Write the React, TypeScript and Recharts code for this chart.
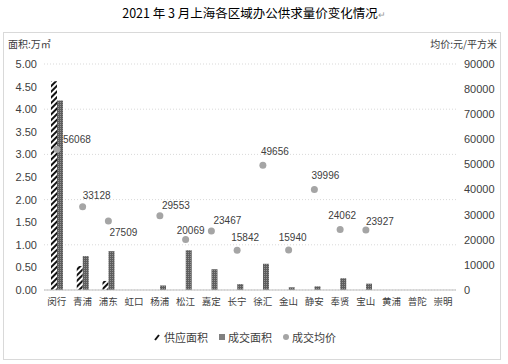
import { ComposedChart, Bar, Line, XAxis, YAxis, CartesianGrid } from 'recharts';

const districts = ['闵行', '青浦', '浦东', '虹口', '杨浦', '松江', '嘉定', '长宁', '徐汇', '金山', '静安', '奉贤', '宝山', '黄浦', '普陀', '崇明'];
const supplyArea = [4.62, 0.53, 0.2, 0, 0, 0, 0, 0, 0, 0, 0, 0, 0, 0, 0, 0];
const dealArea = [4.19, 0.75, 0.86, 0, 0.1, 0.88, 0.46, 0.13, 0.58, 0.06, 0.08, 0.26, 0.14, 0, 0, 0];
const avgPrice = [56068, 33128, 27509, null, 29553, 20069, 23467, 15842, 49656, 15940, 39996, 24062, 23927, null, null, null];
const areaTicks = [0, 0.5, 1, 1.5, 2, 2.5, 3, 3.5, 4, 4.5, 5];
const priceTicks = [0, 10000, 20000, 30000, 40000, 50000, 60000, 70000, 80000, 90000];

// where Excel put each price label, relative to its dot
const labelDx = [20, 14, 15, 0, 16, 5, 16, 8, 12, 4, 11, 2, 14, 0, 0, 0];
const labelDy = [-10, -11, 12, 0, -10, -9, -11, -13, -14, -12, -14, -14, -8, 0, 0, 0];

const data = districts.map((name, i) => ({
  name,
  supply: supplyArea[i],
  deal: dealArea[i],
  price: avgPrice[i],
}));

const cjk = "'Noto Sans CJK SC', sans-serif";
const num = "'Liberation Sans', 'Noto Sans CJK SC', sans-serif";

const PriceLabel = (props: any) => {
  const { x, y, value, index } = props;
  if (value == null) return null;
  return (
    <text
      x={x + labelDx[index]}
      y={y + labelDy[index]}
      textAnchor="middle"
      dominantBaseline="central"
      fontSize={10}
      fontFamily={num}
      fill="#404040"
    >
      {value}
    </text>
  );
};

export default function App() {
  return (
    <div style={{ position: 'absolute', left: 0, top: 0, width: 508, height: 364, background: '#fff' }}>
      <div
        style={{
          position: 'absolute', left: 0, top: 4, width: 508, textAlign: 'center',
          fontFamily: cjk, fontSize: 12.5, color: '#000', lineHeight: '18px',
        }}
      >
        2021 年 3 月上海各区域办公供求量价变化情况<span style={{ color: '#999', fontSize: 9 }}>↵</span>
      </div>
      <div
        style={{
          position: 'absolute', left: 3, top: 32, width: 498, height: 328,
          border: '1px solid #d9d9d9', boxSizing: 'border-box',
        }}
      />
      <div style={{ position: 'absolute', left: 8, top: 36, fontFamily: cjk, fontSize: 10, color: '#404040' }}>
        面积:万㎡
      </div>
      <div style={{ position: 'absolute', right: 11, top: 36, fontFamily: cjk, fontSize: 10, color: '#404040' }}>
        均价:元/平方米
      </div>

      <div style={{ position: 'absolute', left: 0, top: 0 }}>
        <ComposedChart
          width={508}
          height={364}
          data={data}
          margin={{ top: 64, right: 8, bottom: 44, left: 0 }}
          barGap={0}
          barCategoryGap="28%"
        >
          <defs>
            <pattern id="hatch" width="4" height="4" patternUnits="userSpaceOnUse" patternTransform="rotate(45)">
              <rect width="4" height="4" fill="#fff" />
              <rect width="2" height="4" fill="#111" />
            </pattern>
            <pattern id="dots" width="2" height="2" patternUnits="userSpaceOnUse">
              <rect width="2" height="2" fill="#5e5e5e" />
              <rect width="1" height="1" fill="#949494" />
            </pattern>
          </defs>
          <CartesianGrid yAxisId="left" vertical={false} stroke="#d9d9d9" strokeDasharray="1 2" />
          <XAxis
            dataKey="name"
            height={30}
            tickLine={false}
            tickSize={0}
            tickMargin={8}
            axisLine={{ stroke: '#bfbfbf' }}
            interval={0}
            tick={{ fontSize: 9.5, fontFamily: cjk, fill: '#404040' }}
          />
          <YAxis
            yAxisId="left"
            width={44}
            domain={[0, 5]}
            ticks={areaTicks}
            tickFormatter={(v: number) => v.toFixed(2)}
            axisLine={false}
            tickLine={false}
            tickSize={0}
            tickMargin={7}
            tick={{ fontSize: 11, fontFamily: num, fill: '#404040' }}
          />
          <YAxis
            yAxisId="right"
            orientation="right"
            width={44}
            domain={[0, 90000]}
            ticks={priceTicks}
            axisLine={false}
            tickLine={false}
            tickSize={0}
            tickMargin={8}
            tick={{ fontSize: 11, fontFamily: num, fill: '#404040', textAnchor: 'start' }}
          />
          <Bar yAxisId="left" dataKey="supply" name="供应面积" fill="url(#hatch)" barSize={6} isAnimationActive={false} />
          <Bar yAxisId="left" dataKey="deal" name="成交面积" fill="url(#dots)" barSize={6} isAnimationActive={false} />
          <Line
            yAxisId="right"
            dataKey="price"
            name="成交均价"
            stroke="none"
            dot={{ r: 3.5, fill: '#a5a5a5', stroke: '#a5a5a5', strokeWidth: 0 }}
            activeDot={false}
            label={PriceLabel}
            isAnimationActive={false}
          />
        </ComposedChart>
      </div>

      <div
        style={{
          position: 'absolute', left: 0, top: 330, width: 490, display: 'flex', justifyContent: 'center',
          alignItems: 'center', fontFamily: cjk, fontSize: 11, color: '#404040', lineHeight: '14px',
        }}
      >
        <svg width="8" height="8" style={{ marginRight: 2 }}>
          <line x1="1" y1="7" x2="5" y2="2" stroke="#111" strokeWidth="2" />
        </svg>
        <span style={{ marginRight: 10 }}>供应面积</span>
        <svg width="8" height="8" style={{ marginRight: 2 }}>
          <rect x="1" y="1" width="6" height="6" fill="#808080" />
        </svg>
        <span style={{ marginRight: 10 }}>成交面积</span>
        <svg width="8" height="8" style={{ marginRight: 2 }}>
          <circle cx="4" cy="4" r="3" fill="#a5a5a5" />
        </svg>
        <span>成交均价</span>
      </div>
    </div>
  );
}
